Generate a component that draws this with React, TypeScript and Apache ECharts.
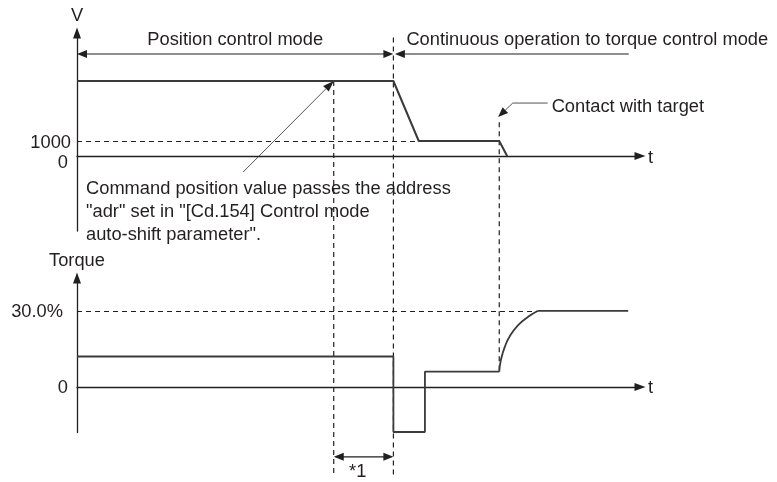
import React, { useEffect, useRef } from "react";
import * as echarts from "echarts";

// ---- data (time axis in arbitrary units 0..100) ----
const speedT = [0, 56.2, 60.7, 75.0, 76.4];
const speedV = [5000, 5000, 1000, 1000, 0];
const torqueT = [0, 56.2, 56.2, 61.8, 61.8, 75.0];
const torqueV = [12, 12, -17.8, -17.8, 6, 6];
const riseT = [75.0, 75.3, 76.0, 77.0, 78.4, 80.2, 81.8];
const riseV = [6, 10.7, 15.9, 20.5, 24.5, 27.8, 30];
const holdT = [81.8, 97.9];
const holdV = [30, 30];
const speedTickLabels = ["0", "1000"];
const torqueTickLabels = ["0", "30.0%"];
const speedLimit = 1000;
const torqueLimit = 30;

// event times
const tPass = 45.6;
const tSwitch = 56.2;
const tSlowReached = 60.7;
const tContact = 75.0;
const tModeEnd = 98.0;

const modeTexts = ["Position control mode", "Continuous operation to torque control mode"];
const noteLines = [
  "Command position value passes the address",
  "\"adr\" set in \"[Cd.154] Control mode",
  "auto-shift parameter\".",
];
const contactText = "Contact with target";
const starText = "*1";

const INK = "#231f20";
const LINE = "#3a3a3a";
const FONT = "'Liberation Sans', Arial, sans-serif";
const FS = 18.3;

const zip = (a: number[], b: number[]) => a.map((v, i) => [v, b[i]]);

export default function App() {
  const ref = useRef<HTMLDivElement>(null);
  useEffect(() => {
    if (!ref.current) return;
    const chart = echarts.init(ref.current, null, { renderer: "svg" });
    const axisLine = () => ({
      show: true,
      onZero: true,
      symbol: ["none", "triangle"],
      symbolSize: [8, 11],
      lineStyle: { color: INK, width: 1.3 },
    });
    const labelBase = { color: INK, fontSize: FS, fontFamily: FONT };
    const option: any = {
      animation: false,
      textStyle: { fontFamily: FONT },
      grid: [
        { left: 77, width: 563, top: 33, height: 198 },
        { left: 77, width: 563, top: 278, height: 154.5 },
      ],
      xAxis: [0, 1].map((g) => ({
        gridIndex: g,
        type: "value",
        min: 0,
        max: 100,
        axisLine: axisLine(),
        axisTick: { show: false },
        axisLabel: { show: false },
        splitLine: { show: false },
        name: "t",
        nameLocation: "end",
        nameGap: 8,
        nameTextStyle: { ...labelBase, verticalAlign: "middle" },
      })),
      yAxis: [
        {
          gridIndex: 0,
          type: "value",
          min: -5000,
          max: 8200,
          interval: 1000,
          axisLine: axisLine(),
          axisTick: { show: false },
          splitLine: { show: false },
          name: "V",
          nameLocation: "end",
          nameGap: 10,
          nameTextStyle: { ...labelBase },
          axisLabel: {
            ...labelBase,
            margin: 6,
            formatter: (v: number) =>
              v === 0 ? "{z|" + speedTickLabels[0] + "}" : v === speedLimit ? speedTickLabels[1] : "",
            rich: { z: { ...labelBase, padding: [11, 3, 0, 0] } },
          },
        },
        {
          gridIndex: 1,
          type: "value",
          min: -18,
          max: 43,
          interval: 6,
          axisLine: axisLine(),
          axisTick: { show: false },
          splitLine: { show: false },
          name: "Torque",
          nameLocation: "end",
          nameGap: 10,
          nameTextStyle: { ...labelBase },
          axisLabel: {
            ...labelBase,
            margin: 9,
            formatter: (v: number) =>
              v === 0 ? torqueTickLabels[0] : v === torqueLimit ? "{p|" + torqueTickLabels[1] + "}" : "",
            rich: { p: { ...labelBase, padding: [0, 5, 0, 0] } },
          },
        },
      ],
      series: [
        {
          type: "line",
          xAxisIndex: 0,
          yAxisIndex: 0,
          data: zip(speedT, speedV),
          symbol: "none",
          lineStyle: { color: LINE, width: 2 },
          markLine: {
            silent: true,
            symbol: ["none", "none"],
            label: { show: false },
            lineStyle: { color: INK, width: 1.2, type: [5, 4] },
            data: [[{ coord: [0, speedLimit] }, { coord: [tSlowReached, speedLimit] }]],
          },
        },
        {
          type: "line",
          xAxisIndex: 1,
          yAxisIndex: 1,
          data: zip(torqueT, torqueV),
          symbol: "none",
          lineStyle: { color: LINE, width: 1.8 },
          markLine: {
            silent: true,
            symbol: ["none", "none"],
            label: { show: false },
            lineStyle: { color: INK, width: 1.2, type: [5, 4] },
            data: [[{ coord: [0, torqueLimit] }, { coord: [riseT[riseT.length - 1], torqueLimit] }]],
          },
        },
        {
          type: "line",
          xAxisIndex: 1,
          yAxisIndex: 1,
          data: zip(riseT, riseV),
          smooth: true,
          symbol: "none",
          lineStyle: { color: LINE, width: 1.8 },
        },
        {
          type: "line",
          xAxisIndex: 1,
          yAxisIndex: 1,
          data: zip(holdT, holdV),
          symbol: "none",
          lineStyle: { color: LINE, width: 1.8 },
        },
      ],
    };
    chart.setOption(option);

    const P0 = (t: number, v: number) => chart.convertToPixel({ gridIndex: 0 } as any, [t, v]) as number[];
    const P1 = (t: number, v: number) => chart.convertToPixel({ gridIndex: 1 } as any, [t, v]) as number[];

    const g: any[] = [];
    const dash = { stroke: INK, lineWidth: 1.2, lineDash: [5, 4] };
    const solid = { stroke: INK, lineWidth: 1.2 };
    const thin = { stroke: "#555", lineWidth: 1 };
    const line = (x1: number, y1: number, x2: number, y2: number, style: any) =>
      g.push({ type: "line", silent: true, shape: { x1, y1, x2, y2 }, style });
    const head = (tip: number[], from: number[], len = 10, w = 8) => {
      const dx = tip[0] - from[0];
      const dy = tip[1] - from[1];
      const d = Math.hypot(dx, dy) || 1;
      const ux = dx / d;
      const uy = dy / d;
      const bx = tip[0] - ux * len;
      const by = tip[1] - uy * len;
      const nx = -uy * (w / 2);
      const ny = ux * (w / 2);
      g.push({
        type: "polygon",
        silent: true,
        shape: { points: [tip, [bx + nx, by + ny], [bx - nx, by - ny]] },
        style: { fill: INK },
      });
      return [bx, by];
    };
    const text = (x: number, y: number, s: string, align = "left", vAlign = "middle", extra: any = {}) =>
      g.push({
        type: "text",
        silent: true,
        x,
        y,
        style: { text: s, fill: INK, font: `${FS}px ${FONT}`, align, verticalAlign: vAlign, ...extra },
      });

    // vertical dashed guides
    const bottomT = -34.8;
    const pPassTop = P0(tPass, speedV[0]);
    const pPassBot = P1(tPass, bottomT);
    line(pPassTop[0], pPassTop[1], pPassBot[0], pPassBot[1], dash);
    const pSwTop = P0(tSwitch, 7900);
    const pSwBot = P1(tSwitch, bottomT);
    line(pSwTop[0], pSwTop[1], pSwBot[0], pSwBot[1], dash);
    const pCtTop = P0(tContact, 2250);
    const pCtBot = P1(tContact, riseV[0]);
    line(pCtTop[0], pCtTop[1], pCtBot[0], pCtBot[1], dash);

    // mode arrows
    const modeY = P0(0, 6800)[1];
    const x0 = P0(0, 0)[0];
    const xs = P0(tSwitch, 0)[0];
    const xe = P0(tModeEnd, 0)[0];
    line(x0 + 8, modeY, xs - 8, modeY, solid);
    head([x0, modeY], [x0 + 20, modeY], 10, 8);
    head([xs, modeY], [xs - 20, modeY], 10, 8);
    line(xs + 10, modeY, xe, modeY, solid);
    head([xs + 1.5, modeY], [xs + 20, modeY], 10, 8);
    const modeTextY = P0(0, 7830)[1];
    text((x0 + xs) / 2, modeTextY, modeTexts[0], "center");
    text(xs + 13, modeTextY, modeTexts[1], "left");

    // command position annotation
    const aFrom = P0(29.5, -1070);
    const aTip = P0(tPass, speedV[0]);
    const aBase = head(aTip, aFrom, 11, 8);
    line(aFrom[0], aFrom[1], aBase[0], aBase[1], thin);
    const noteP = P0(1.6, -2130);
    text(noteP[0], noteP[1] - 11.5, noteLines.join("\n"), "left", "top", { lineHeight: 23 });

    // contact annotation
    const cTip = P0(tContact - 0.2, 2600);
    const cKnee = P0(77.4, 3530);
    const cEnd = P0(83.6, 3530);
    const cBase = head(cTip, cKnee, 10, 8);
    g.push({
      type: "polyline",
      silent: true,
      shape: { points: [cEnd, cKnee, cBase] },
      style: { ...thin, fill: null },
    });
    text(cEnd[0] + 4, cEnd[1] + 2, contactText, "left");

    // *1 interval arrow
    const sL = P1(tPass, -27.6);
    const sR = P1(tSwitch, -27.6);
    line(sL[0] + 8, sL[1], sR[0] - 8, sR[1], solid);
    head(sL, [sL[0] + 20, sL[1]], 10, 8);
    head(sR, [sR[0] - 20, sR[1]], 10, 8);
    const starP = P1(tPass, -33.0);
    text(starP[0] + 24, starP[1], starText, "center");

    chart.setOption({ graphic: { elements: g } });
    return () => chart.dispose();
  }, []);
  return <div ref={ref} style={{ position: "fixed", left: 0, top: 0, width: 777, height: 482 }} />;
}
